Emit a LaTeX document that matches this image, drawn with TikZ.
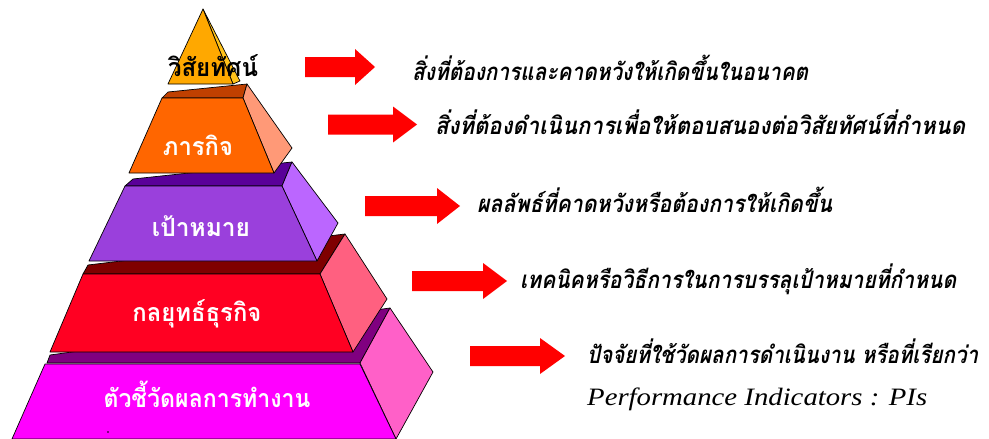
\documentclass[tikz,border=0pt]{standalone}
\usepackage{fontspec}
\usepackage{graphicx}
\setmainfont{Liberation Serif}
\newfontfamily\thaifont[Script=Thai]{Loma}
\definecolor{apexfront}{HTML}{FFA800}
\definecolor{apexside}{HTML}{FFC21A}
\definecolor{orfront}{HTML}{FF6600}
\definecolor{orband}{HTML}{C04000}
\definecolor{orside}{HTML}{FF9977}
\definecolor{pufront}{HTML}{9A40DC}
\definecolor{puband}{HTML}{5A0099}
\definecolor{puside}{HTML}{BB66FF}
\definecolor{refront}{HTML}{FF0022}
\definecolor{reband}{HTML}{7F0000}
\definecolor{reside}{HTML}{FF6080}
\definecolor{mafront}{HTML}{FF00FF}
\definecolor{maband}{HTML}{800080}
\definecolor{maside}{HTML}{FF60C8}
\definecolor{arrowred}{HTML}{FF0000}
\newcommand{\redarr}[4]{\fill[arrowred] (#1,#4-10) -- (#2,#4-10) -- (#2,#4-18) -- (#3,#4) -- (#2,#4+18) -- (#2,#4+10) -- (#1,#4+10) -- cycle;}
\begin{document}
\begin{tikzpicture}[x=1pt,y=-1pt,
  face/.style={draw=black,line width=0.7pt,line join=round},
  lvllabel/.style={inner sep=0pt,anchor=base,text=white,font=\thaifont\bfseries\fontsize{25}{28}\selectfont},
  desc/.style={inner sep=0pt,anchor=base west,text=black,xslant=0.2,transform shape,font=\thaifont\bfseries\fontsize{24}{28}\selectfont}]
\useasboundingbox (0,0) rectangle (989,439);
\fill[white] (0,0) rectangle (989,439);
% level 5 magenta
\draw[face,fill=maband] (47,363) -- (50,355) -- (390,308) -- (360,363) -- cycle;
\draw[face,fill=maside] (360,363) -- (390,308) -- (433,372) -- (396,439) -- cycle;
\draw[face,fill=mafront] (45,364) -- (360,364) -- (396,439) -- (12,439) -- cycle;
\fill[black] (108,432) circle (0.9);
% level 4 red
\draw[face,fill=reband] (83,274) -- (88,265) -- (345,234) -- (320,274) -- cycle;
\draw[face,fill=reside] (320,274) -- (345,234) -- (387,299) -- (353,352) -- cycle;
\draw[face,fill=refront] (83,274) -- (320,274) -- (353,352) -- (50,352) -- cycle;
% level 3 purple
\draw[face,fill=puband] (125,186) -- (133,179) -- (292,162) -- (282,186) -- cycle;
\draw[face,fill=puside] (282,186) -- (292,162) -- (338,223) -- (317,261) -- cycle;
\draw[face,fill=pufront] (125,186) -- (282,186) -- (317,261) -- (89,261) -- cycle;
% level 2 orange
\draw[face,fill=orband] (162,98) -- (168,92) -- (247,84) -- (243,98) -- cycle;
\draw[face,fill=orside] (243,98) -- (247,84) -- (292,148) -- (274,173) -- cycle;
\draw[face,fill=orfront] (162,98) -- (243,98) -- (274,173) -- (129,173) -- cycle;
% apex
\draw[face,fill=apexside] (203,9) -- (240,81) -- (233,84) -- cycle;
\draw[face,fill=apexfront] (168,84) -- (203,9) -- (233,84) -- cycle;
% level labels
\node[lvllabel,text=black] (l1) at (213,76) {\resizebox{90pt}{\height}{วิสัยทัศน์}};
\node[lvllabel] (l2) at (198,155) {\resizebox{70pt}{\height}{ภารกิจ}};
\node[lvllabel] (l3) at (201,236) {\resizebox{98pt}{\height}{เป้าหมาย}};
\node[lvllabel] (l4) at (197,321) {\resizebox{129pt}{\height}{กลยุทธ์ธุรกิจ}};
\node[lvllabel] (l5) at (207,407) {\resizebox{207pt}{\height}{ตัวชี้วัดผลการทำงาน}};
% arrows
\redarr{305}{355}{375}{67}
\redarr{328}{393}{417}{124.5}
\redarr{365}{437}{460}{206}
\redarr{412}{483}{507}{281}
\redarr{470}{540}{565}{356}
% descriptions
\begin{scope}[shift={(412,80)}]
\node[desc] (t1) at (0,0) {\resizebox{396pt}{\height}{สิ่งที่ต้องการและคาดหวังให้เกิดขึ้นในอนาคต}};
\end{scope}
\begin{scope}[shift={(435,134)}]
\node[desc] (t2) at (0,0) {\resizebox{530pt}{\height}{สิ่งที่ต้องดำเนินการเพื่อให้ตอบสนองต่อวิสัยทัศน์ที่กำหนด}};
\end{scope}
\begin{scope}[shift={(477,212)}]
\node[desc] (t3) at (0,0) {\resizebox{355pt}{\height}{ผลลัพธ์ที่คาดหวังหรือต้องการให้เกิดขึ้น}};
\end{scope}
\begin{scope}[shift={(520,288)}]
\node[desc] (t4) at (0,0) {\resizebox{436pt}{\height}{เทคนิคหรือวิธีการในการบรรลุเป้าหมายที่กำหนด}};
\end{scope}
\begin{scope}[shift={(587,363)}]
\node[desc] (t5) at (0,0) {\resizebox{391pt}{\height}{ปัจจัยที่ใช้วัดผลการดำเนินงาน หรือที่เรียกว่า}};
\end{scope}
\node[inner sep=0pt,anchor=base west,font=\itshape\fontsize{25}{30}\selectfont] (t6) at (587,405) {\resizebox{340pt}{\height}{\textit{Performance Indicators : PIs}}};
\end{tikzpicture}
\end{document}
